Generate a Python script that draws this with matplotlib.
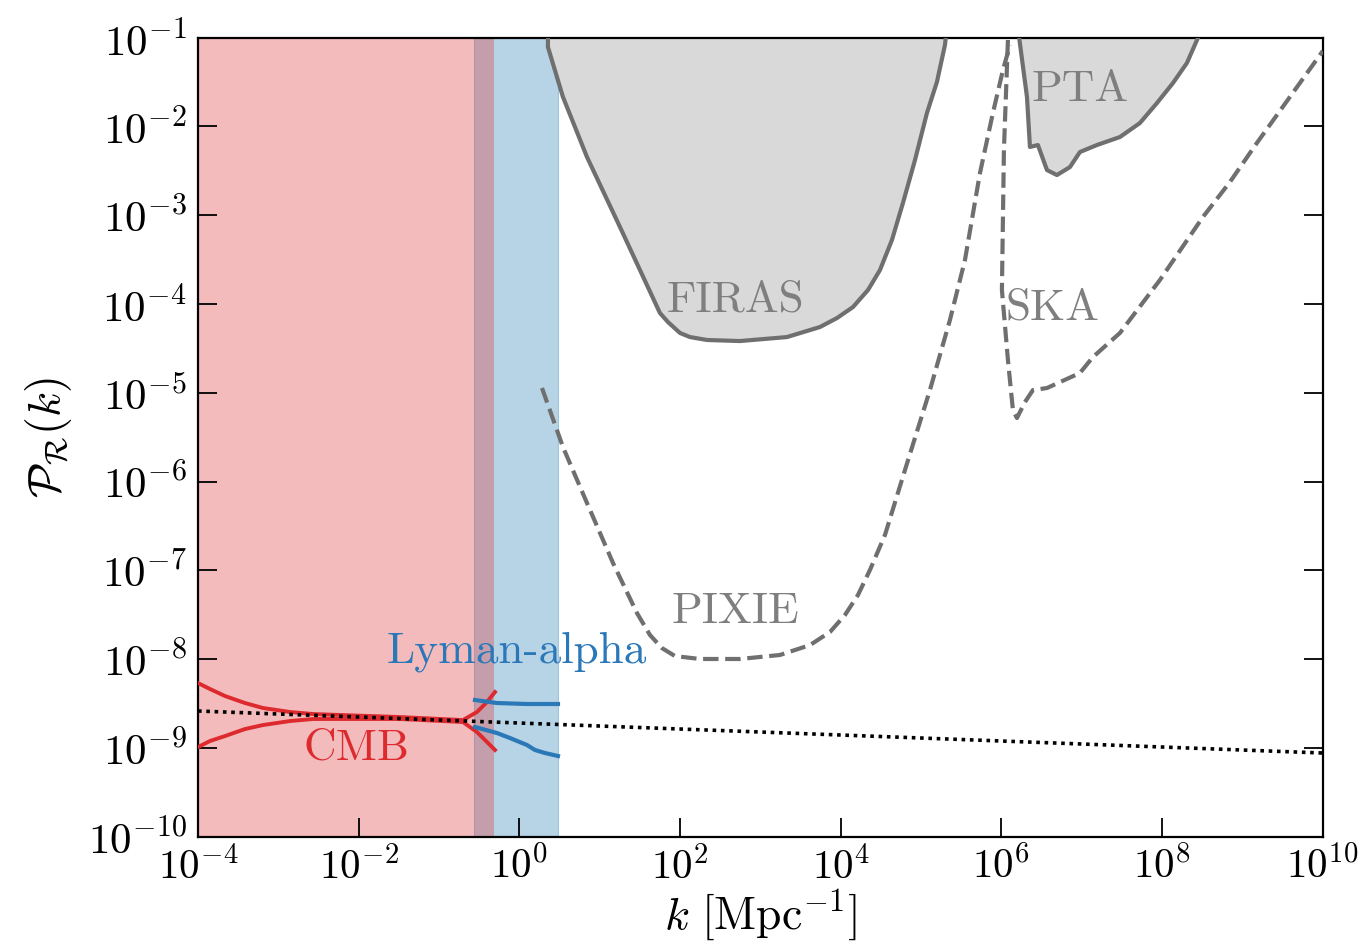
import numpy as np
import matplotlib
matplotlib.use("Agg")
import matplotlib.pyplot as plt
from matplotlib.ticker import FixedLocator, FuncFormatter, NullLocator

plt.rcParams["font.family"] = "serif"
plt.rcParams["font.serif"] = ["cmr10", "DejaVu Serif"]
plt.rcParams["mathtext.fontset"] = "cm"
plt.rcParams["axes.formatter.use_mathtext"] = True

# ---- data (log10 k [Mpc^-1], log10 P_R) ----
# CMB constraint envelope
cmb_upper_lk = [-4.0, -3.851, -3.664, -3.415, -3.191, -2.855, -2.569, -1.486,
                -0.702, -0.527, -0.403, -0.303]
cmb_upper_lp = [-8.269, -8.336, -8.415, -8.494, -8.550, -8.595, -8.618, -8.652,
                -8.686, -8.595, -8.483, -8.370]
cmb_lower_lk = [-4.0, -3.851, -3.664, -3.415, -3.191, -2.855, -2.569, -1.486,
                -0.702, -0.527, -0.403, -0.303]
cmb_lower_lp = [-8.990, -8.922, -8.866, -8.787, -8.742, -8.697, -8.674, -8.674,
                -8.708, -8.821, -8.933, -9.023]

# Lyman-alpha constraint envelope
lya_upper_lk = [-0.552, -0.278, 0.095, 0.481]
lya_upper_lp = [-8.460, -8.494, -8.505, -8.505]
lya_lower_lk = [-0.552, -0.278, -0.117, 0.095, 0.195, 0.319, 0.481]
lya_lower_lp = [-8.764, -8.832, -8.888, -8.967, -9.023, -9.057, -9.091]

# Probe ranges in k
cmb_band = (-4.0, -0.316)
lya_band = (-0.565, 0.481)

# Nearly scale-invariant spectrum
ref_lk = [-4.0, 10.0]
ref_lp = [-8.584, -9.057]

# FIRAS exclusion boundary
firas_lk = [0.356, 0.356, 0.543, 0.842, 1.253, 1.750, 1.850, 2.000, 2.124,
            2.336, 2.746, 3.331, 3.742, 3.954, 4.153, 4.340, 4.489, 4.638,
            4.775, 4.925, 5.074, 5.198, 5.298, 5.32]
firas_lp = [-0.9, -1.105, -1.668, -2.344, -3.133, -4.101, -4.203, -4.326,
            -4.372, -4.405, -4.417, -4.372, -4.259, -4.158, -4.034, -3.842,
            -3.617, -3.279, -2.862, -2.378, -1.848, -1.499, -1.083, -0.9]

# PIXIE forecast
pixie_lk = [0.282, 0.543, 0.842, 1.166, 1.464, 1.626, 1.775, 1.937, 2.248,
            2.746, 3.244, 3.618, 3.867, 4.053, 4.215, 4.364, 4.551, 4.800,
            5.111, 5.360, 5.547, 5.734, 5.895, 6.020, 6.107]
pixie_lp = [-4.946, -5.611, -6.241, -6.917, -7.480, -7.728, -7.875, -7.965,
            -7.998, -7.998, -7.953, -7.841, -7.694, -7.503, -7.278, -6.996,
            -6.602, -5.870, -4.969, -4.180, -3.504, -2.524, -1.848, -1.364,
            -1.083]

# SKA forecast
ska_lk = [6.082, 6.032, 6.007, 6.082, 6.144, 6.194, 6.294, 6.393, 6.568,
          6.978, 7.140, 7.476, 7.974, 8.509, 8.845, 9.181, 9.966, 10.0]
ska_lp = [-1.026, -2.265, -3.842, -4.631, -5.194, -5.284, -5.104, -4.969,
          -4.946, -4.777, -4.597, -4.326, -3.729, -3.020, -2.626, -2.186,
          -1.195, -1.15]

# PTA exclusion boundary
pta_lk = [6.207, 6.319, 6.356, 6.455, 6.568, 6.692, 6.854, 6.978, 7.190,
          7.476, 7.725, 7.937, 8.136, 8.310, 8.472]
pta_lp = [-0.9, -1.668, -2.231, -2.209, -2.491, -2.547, -2.457, -2.288,
          -2.209, -2.119, -1.961, -1.736, -1.511, -1.285, -0.95]

# Region labels: (text, log10 k, log10 P, colour)
labels = [
    ("FIRAS", 2.684, -3.955, "#7f7f7f"),
    ("PIXIE", 2.684, -7.469, "#7f7f7f"),
    ("SKA", 6.642, -4.045, "#7f7f7f"),
    ("PTA", 6.978, -1.589, "#7f7f7f"),
    ("Lyman-alpha", -0.029, -7.920, "#2a78b8"),
    ("CMB", -2.021, -9.001, "#dd2a2e"),
]

x_major = [-4, -2, 0, 2, 4, 6, 8, 10]
y_major = list(range(-10, 0))


def p10(a):
    return 10.0 ** np.asarray(a, dtype=float)


fig = plt.figure(figsize=(13.58, 9.49), dpi=100)
ax = fig.add_axes([0.1458, 0.1183, 0.8282, 0.8420])
ax.set_xscale("log")
ax.set_yscale("log")
ax.set_xlim(1e-4, 1e10)
ax.set_ylim(1e-10, 1e-1)

red = "#dd2a2e"
blue = "#2a78b8"
grey_edge = "#6f6f6f"

# probe bands
ax.axvspan(*p10(lya_band), facecolor="#1f77b4", alpha=0.32, edgecolor="#1f77b4",
           lw=0.8, zorder=1)
ax.axvspan(*p10(cmb_band), facecolor="#e0393b", alpha=0.34, lw=0, zorder=1.2)

# excluded regions
ax.fill_between(p10(firas_lk), p10(firas_lp), 1.0, color="#d9d9d9", zorder=2)
ax.plot(p10(firas_lk), p10(firas_lp), color=grey_edge, lw=3, zorder=3,
        solid_joinstyle="round")
ax.fill_between(p10(pta_lk), p10(pta_lp), 1.0, color="#d9d9d9", zorder=2)
ax.plot(p10(pta_lk), p10(pta_lp), color=grey_edge, lw=3, zorder=3,
        solid_joinstyle="round")

# forecasts
ax.plot(p10(pixie_lk), p10(pixie_lp), color=grey_edge, lw=3, ls="--", zorder=3)
ax.plot(p10(ska_lk), p10(ska_lp), color=grey_edge, lw=3, ls="--", zorder=3)

# measured amplitudes
ax.plot(p10(cmb_upper_lk), p10(cmb_upper_lp), color=red, lw=2.8, zorder=4)
ax.plot(p10(cmb_lower_lk), p10(cmb_lower_lp), color=red, lw=2.8, zorder=4)
ax.plot(p10(lya_upper_lk), p10(lya_upper_lp), color=blue, lw=3, zorder=4)
ax.plot(p10(lya_lower_lk), p10(lya_lower_lp), color=blue, lw=3, zorder=4)
ax.plot(p10(ref_lk), p10(ref_lp), color="black", lw=2.6, ls=(0, (1, 1.3)),
        zorder=5)

for text, lk, lp, col in labels:
    ax.text(10 ** lk, 10 ** lp, text, color=col, fontsize=32.5,
            ha="center", va="center", zorder=6)

ax.xaxis.set_major_locator(FixedLocator(p10(x_major)))
ax.yaxis.set_major_locator(FixedLocator(p10(y_major)))
ax.xaxis.set_minor_locator(NullLocator())
ax.yaxis.set_minor_locator(NullLocator())
fmt = FuncFormatter(lambda v, pos: r"$10^{%d}$" % int(round(np.log10(v))))
ax.xaxis.set_major_formatter(fmt)
ax.yaxis.set_major_formatter(fmt)
ax.tick_params(which="major", direction="in", length=14, width=1.3,
               right=True, top=False)
ax.tick_params(axis="x", pad=7, labelsize=29.5)
ax.tick_params(axis="y", pad=8, labelsize=31)
for s in ax.spines.values():
    s.set_linewidth(1.6)

ax.set_xlabel(r"$k\ [\mathrm{Mpc}^{-1}]$", fontsize=33, labelpad=0)
ax.set_ylabel(r"$\mathcal{P}_\mathcal{R}(k)$", fontsize=33, labelpad=10)

fig.savefig("out.png", dpi=100)
